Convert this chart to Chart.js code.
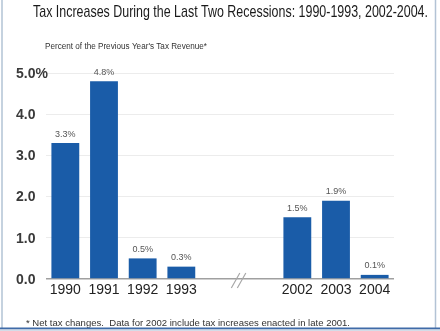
<!DOCTYPE html>
<html>
<head>
<meta charset="utf-8">
<title>Tax Increases During the Last Two Recessions</title>
<script src="https://cdn.jsdelivr.net/npm/chart.js@4/dist/chart.umd.min.js"></script>
<style>
  html, body { margin: 0; padding: 0; background: #ffffff; }
  canvas { display: block; }
</style>
</head>
<body>
<canvas id="chart" width="440" height="331"></canvas>
<script>
// Years shown on the category axis; the two blank slots hold the axis break.
const years = ['1990', '1991', '1992', '1993', '', '', '2002', '2003', '2004'];
// Net tax increase, percent of the previous year's tax revenue.
const taxIncrease = [3.3, 4.8, 0.5, 0.3, null, null, 1.5, 1.9, 0.1];
// Value axis ticks.
const yTicks = [0, 1, 2, 3, 4, 5];
const yTickLabels = ['0.0', '1.0', '2.0', '3.0', '4.0', '5.0%'];

const titleText = 'Tax Increases During the Last Two Recessions: 1990-1993, 2002-2004.';
const subtitleText = "Percent of the Previous Year's Tax Revenue*";
const footnoteText = '* Net tax changes.  Data for 2002 include tax increases enacted in late 2001.';

const BAR_BLUE = '#1a5ca8';
const NARROW = "'Liberation Sans Narrow', 'Liberation Sans', 'DejaVu Sans', sans-serif";

// Draw a line of text squeezed horizontally to a given width.
function squeezedText(ctx, text, x, y, width, font, color) {
  ctx.save();
  ctx.font = font;
  ctx.fillStyle = color;
  ctx.textBaseline = 'middle';
  ctx.textAlign = 'left';
  const w = ctx.measureText(text).width;
  const k = width / w;
  ctx.translate(x, y);
  ctx.scale(k, 1);
  ctx.fillText(text, 0, 0);
  ctx.restore();
}

const decorations = {
  id: 'decorations',
  beforeDraw(chart) {
    const ctx = chart.ctx;
    ctx.save();
    ctx.fillStyle = '#ffffff';
    ctx.fillRect(0, 0, chart.width, chart.height);
    ctx.restore();
  },
  afterDatasetsDraw(chart) {
    const ctx = chart.ctx;
    const meta = chart.getDatasetMeta(0);
    ctx.save();
    ctx.font = "9px " + NARROW;
    ctx.fillStyle = '#555555';
    ctx.textAlign = 'center';
    ctx.textBaseline = 'middle';
    meta.data.forEach((bar, i) => {
      const v = taxIncrease[i];
      if (v === null) return;
      ctx.fillText(v.toFixed(1) + '%', bar.x, bar.y - 9);
    });
    ctx.restore();
  },
  afterDraw(chart) {
    const ctx = chart.ctx;
    const x = chart.scales.x;
    const y = chart.scales.y;

    // Value-axis labels, left aligned so the top one may run past the axis
    ctx.save();
    ctx.font = "bold 14px 'Liberation Sans', sans-serif";
    ctx.fillStyle = '#3a3a3a';
    ctx.textAlign = 'left';
    ctx.textBaseline = 'middle';
    yTicks.forEach((v, i) => {
      ctx.fillText(yTickLabels[i], 16, y.getPixelForValue(v) + 1);
    });
    ctx.restore();

    // Axis break between the two recessions
    const bx = (x.getPixelForValue(4) + x.getPixelForValue(5)) / 2;
    const by = y.getPixelForValue(0);
    ctx.save();
    ctx.strokeStyle = '#a8a8a8';
    ctx.lineWidth = 1.2;
    ctx.beginPath();
    ctx.moveTo(bx - 8, by + 9); ctx.lineTo(bx + 0.5, by - 6);
    ctx.moveTo(bx - 2, by + 9); ctx.lineTo(bx + 6.5, by - 6);
    ctx.stroke();
    ctx.restore();

    // Titles and footnote
    squeezedText(ctx, titleText, 33, 12, 395, "17px " + NARROW, '#1a1a1a');
    squeezedText(ctx, subtitleText, 45, 47, 162, "8.5px " + NARROW, '#333333');
    squeezedText(ctx, footnoteText, 26, 323, 324, "9.5px " + NARROW, '#333333');

    // Frame
    ctx.save();
    ctx.strokeStyle = '#b3c3d5';
    ctx.lineWidth = 1.5;
    ctx.beginPath();
    ctx.moveTo(2, 0); ctx.lineTo(2, 329);
    ctx.moveTo(435.5, 0); ctx.lineTo(435.5, 329);
    ctx.stroke();
    ctx.fillStyle = '#3f6ba8';
    ctx.fillRect(0, 327.5, 440, 2);
    ctx.fillStyle = '#d3dce8';
    ctx.fillRect(0, 329.5, 440, 1.5);
    ctx.restore();
  }
};

new Chart(document.getElementById('chart'), {
  type: 'bar',
  data: {
    labels: years,
    datasets: [{
      data: taxIncrease,
      backgroundColor: BAR_BLUE,
      borderWidth: 0,
      barPercentage: 0.72,
      categoryPercentage: 1.0
    }]
  },
  options: {
    responsive: false,
    devicePixelRatio: 1,
    animation: false,
    layout: { padding: { top: 73, left: 16, right: 46, bottom: 32 } },
    plugins: {
      legend: { display: false },
      tooltip: { enabled: false },
      title: { display: false }
    },
    scales: {
      x: {
        grid: { display: false, drawTicks: false },
        border: { display: false },
        ticks: {
          padding: 3,
          color: '#222222',
          font: { family: NARROW, size: 14 },
          maxRotation: 0,
          autoSkip: false
        },
        afterFit(scale) { scale.height = 20; }
      },
      y: {
        min: 0,
        max: 5,
        afterBuildTicks(scale) { scale.ticks = yTicks.map(v => ({ value: v })); },
        grid: {
          drawTicks: false,
          color: ctx => ctx.tick && ctx.tick.value === 0 ? '#a0a0a0' : '#ececec',
          lineWidth: ctx => ctx.tick && ctx.tick.value === 0 ? 1.5 : 1
        },
        border: { display: false },
        ticks: { display: false },
        afterFit(scale) { scale.width = 30; }
      }
    }
  },
  plugins: [decorations]
});
</script>
</body>
</html>
